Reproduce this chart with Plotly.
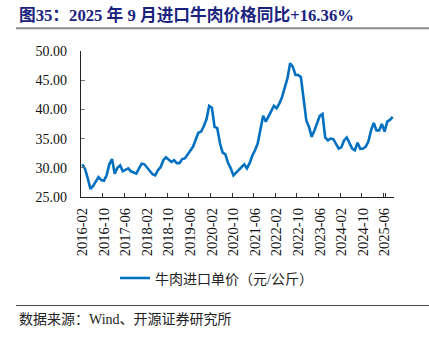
import plotly.graph_objects as go

# Monthly imported beef unit price, 2016-02 .. 2025-09 (yuan/kg)
months = [f"{y}-{m:02d}" for y in range(2016, 2026) for m in range(1, 13)]
months = months[months.index("2016-02"):months.index("2025-09") + 1]

beef_price = [
    30.6, 29.8, 28.2, 26.4, 26.9, 27.6, 28.4, 27.9, 27.8, 28.7, 30.6,   # 2016
    31.5, 29.0, 30.0, 30.4, 29.4, 29.6, 29.9, 29.4, 29.2, 29.0, 29.9, 30.7,   # 2017
    30.6, 30.0, 29.4, 28.9, 28.7, 29.6, 30.1, 31.3, 31.8, 31.4, 31.0, 31.3,   # 2018
    30.8, 30.8, 31.5, 31.6, 32.3, 32.8, 33.6, 34.8, 36.0, 36.2, 37.1, 38.3,   # 2019
    40.6, 40.3, 37.0, 36.8, 34.2, 32.6, 32.3, 30.8, 29.9, 28.7, 29.2, 29.7,   # 2020
    30.2, 30.6, 29.9, 30.8, 32.1, 33.0, 34.2, 36.4, 38.9, 37.9, 38.9, 39.8,   # 2021
    40.6, 40.2, 41.0, 42.1, 43.6, 45.3, 47.9, 47.3, 45.9, 45.9, 45.5, 41.9,   # 2022
    38.1, 37.0, 35.3, 36.4, 37.6, 38.9, 39.2, 35.2, 34.7, 35.0, 34.9, 34.2,   # 2023
    33.3, 33.5, 34.7, 35.2, 34.3, 33.3, 33.0, 34.3, 33.26, 33.3, 33.6, 34.5,  # 2024
    36.4, 37.7, 36.4, 36.4, 37.5, 36.2, 37.9, 38.2, 38.7,                     # 2025
]

tick_labels = months[::8]
y_ticks = [25, 30, 35, 40, 45, 50]

series_name = "牛肉进口单价（元/公斤）"
title_text = "图35：2025 年 9 月进口牛肉价格同比+16.36%"
source_text = "数据来源：Wind、开源证券研究所"

W, H = 429, 341
PL, PR, PT, PB = 81, 394, 51, 196.7   # plot area in pixels


def px_x(px):
    return (px - PL) / (PR - PL)


def px_y(py):
    return (PB - py) / (PB - PT)


serif = "Liberation Serif, 'Times New Roman', 'Noto Sans CJK SC', serif"
cjk = "'Liberation Serif', 'Noto Sans CJK SC', sans-serif"

fig = go.Figure()
fig.add_trace(go.Scatter(
    x=months, y=beef_price, mode="lines", name=series_name,
    line=dict(color="#0070C0", width=2.6),
))

fig.update_layout(
    width=W, height=H,
    margin=dict(l=PL, r=W - PR, t=PT, b=H - PB),
    paper_bgcolor="white", plot_bgcolor="white",
    showlegend=True,
    legend=dict(
        orientation="h", x=px_x(115), y=px_y(278), xanchor="left", yanchor="middle",
        font=dict(family=cjk, size=14, color="#222"),
        itemwidth=30, bgcolor="rgba(0,0,0,0)",
    ),
    xaxis=dict(
        type="category", range=[-0.5, len(months) - 0.5],
        tickmode="array", tickvals=tick_labels, ticktext=tick_labels,
        tickson="boundaries", ticks="inside", ticklen=4, tickcolor="#333",
        tickangle=-90, tickfont=dict(family=serif, size=14.5, color="#111"),
        showline=True, linecolor="#222", linewidth=1.2,
        showgrid=False, zeroline=False, ticklabelstandoff=4,
    ),
    yaxis=dict(
        range=[25, 50], tickmode="array", tickvals=y_ticks,
        tickformat=".2f", ticks="inside", ticklen=4, tickcolor="#777",
        tickfont=dict(family=serif, size=14, color="#111"),
        showline=True, linecolor="#222", linewidth=1.2,
        showgrid=False, zeroline=False, ticklabelstandoff=10,
    ),
)

# heading, rules and source note
fig.add_annotation(
    text=f"<b>{title_text}</b>", xref="paper", yref="paper",
    x=px_x(17), y=px_y(15), xanchor="left", yanchor="middle", showarrow=False,
    font=dict(family=serif, size=16.7, color="#1A237E"),
)
fig.add_shape(type="line", xref="paper", yref="paper",
              x0=px_x(16), x1=px_x(429), y0=px_y(28.3), y1=px_y(28.3),
              line=dict(color="#8C8C8C", width=2))
fig.add_shape(type="line", xref="paper", yref="paper",
              x0=px_x(16), x1=px_x(429), y0=px_y(305), y1=px_y(305),
              line=dict(color="#444", width=1))
fig.add_annotation(
    text=source_text, xref="paper", yref="paper",
    x=px_x(17), y=px_y(319), xanchor="left", yanchor="middle", showarrow=False,
    font=dict(family=cjk, size=14, color="#222"),
)

fig.write_html("out.html")
